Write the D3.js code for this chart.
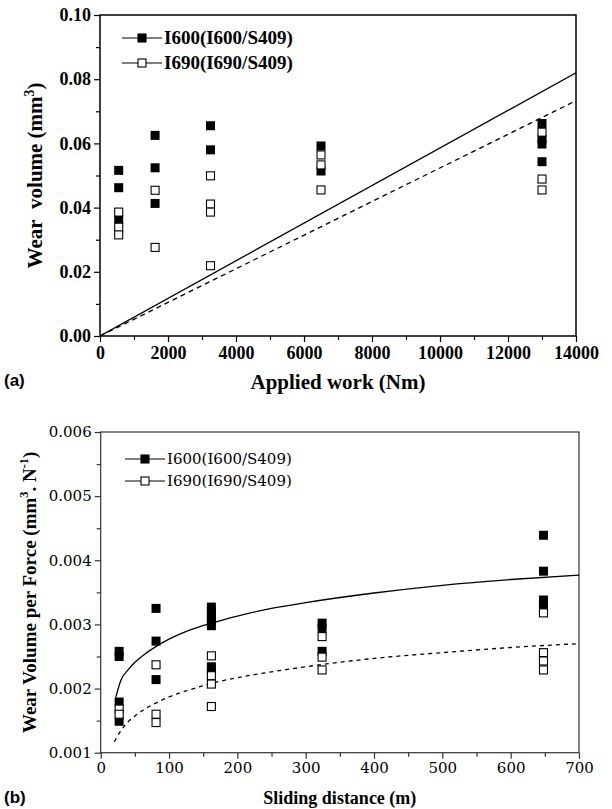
<!DOCTYPE html>
<html>
<head>
<meta charset="utf-8">
<script src="https://cdn.jsdelivr.net/npm/d3@7"></script>
<style>
  body { margin: 0; background: #fff; }
  svg { display: block; }
</style>
</head>
<body>
<svg id="chart" width="612" height="809"></svg>
<script>
// ---- panel (a): wear volume vs applied work ----
const workX = [550, 1620, 3250, 6500, 13000];
const volI600 = [
    [0.0516, 0.0462, 0.0363],
    [0.0625, 0.0524, 0.0413],
    [0.0655, 0.0580],
    [0.0592, 0.0514],
    [0.0662, 0.0614, 0.0598, 0.0543]
];
const volI690 = [
    [0.0386, 0.0339, 0.0315],
    [0.0454, 0.0276],
    [0.0499, 0.0411, 0.0386, 0.0219],
    [0.0564, 0.0533, 0.0455],
    [0.0635, 0.0489, 0.0455]
];
const fitI600a = [[0, 0], [14000, 0.0820]];
const fitI690a = [[0, 0], [14000, 0.0733]];
const workTicks = [0, 2000, 4000, 6000, 8000, 10000, 12000, 14000];
const volTicks = [0, 0.02, 0.04, 0.06, 0.08, 0.10];

// ---- panel (b): wear volume per force vs sliding distance ----
const distX = [27, 81, 162, 324, 648];
const wpfI600 = [
    [0.00258, 0.00250, 0.00179, 0.00149],
    [0.00325, 0.00274, 0.00214],
    [0.00327, 0.00320, 0.00312, 0.00305, 0.00298, 0.00234, 0.00229],
    [0.00302, 0.00294, 0.00258],
    [0.00439, 0.00383, 0.00338, 0.00333, 0.00325]
];
const wpfI690 = [
    [0.00168, 0.00160],
    [0.00237, 0.00160, 0.00147],
    [0.00251, 0.00220, 0.00207, 0.00172],
    [0.00281, 0.00249, 0.00229],
    [0.00318, 0.00256, 0.00243, 0.00229]
];
const curveI600b = [[22, 0.00186], [30, 0.00214], [40, 0.00229], [50, 0.00241], [60, 0.00250],
    [80, 0.00265], [100, 0.00277], [130, 0.00291], [162, 0.00302], [200, 0.00313], [250, 0.00325],
    [300, 0.00334], [400, 0.00349], [500, 0.00361], [600, 0.00370], [700, 0.00377]];
const curveI690b = [[20, 0.00117], [30, 0.00135], [40, 0.00148], [50, 0.00157], [60, 0.00165],
    [80, 0.00177], [100, 0.00187], [130, 0.00198], [162, 0.00208], [200, 0.00217], [250, 0.00226],
    [300, 0.00234], [400, 0.00247], [500, 0.00256], [600, 0.00264], [700, 0.00270]];
const distTicks = [0, 100, 200, 300, 400, 500, 600, 700];
const wpfTicks = [0.001, 0.002, 0.003, 0.004, 0.005, 0.006];

const legendNames = ["I600(I600/S409)", "I690(I690/S409)"];

const TIMES = '"Liberation Serif", "Times New Roman", serif';
const WIDE = '"DejaVu Serif", serif';
const ARIAL = '"Liberation Sans", Arial, sans-serif';

const svg = d3.select('#chart');

// flatten column lists into [x, y] points
function toPoints(xs, cols) {
    const pts = [];
    cols.forEach((col, i) => col.forEach(v => pts.push([xs[i], v])));
    return pts;
}

function font(sel, family, size, weight) {
    return sel.style('font-family', family).style('font-size', size + 'px')
        .style('font-weight', weight);
}

function drawPanel(p) {
    const g = svg.append('g');
    const x = d3.scaleLinear().domain(p.xDomain).range([p.left, p.right]);
    const y = d3.scaleLinear().domain(p.yDomain).range([p.bottom, p.top]);

    // minor ticks
    g.append('g').attr('transform', `translate(0,${p.bottom})`)
        .call(d3.axisBottom(x).tickValues(p.xMinor).tickSize(4).tickFormat(''))
        .call(a => a.select('.domain').remove())
        .selectAll('line').attr('stroke', p.axisColor).attr('stroke-width', 1.2);
    g.append('g').attr('transform', `translate(${p.left},0)`)
        .call(d3.axisLeft(y).tickValues(p.yMinor).tickSize(4).tickFormat(''))
        .call(a => a.select('.domain').remove())
        .selectAll('line').attr('stroke', p.axisColor).attr('stroke-width', 1.2);

    // major ticks + labels
    const xa = g.append('g').attr('transform', `translate(0,${p.bottom})`)
        .call(d3.axisBottom(x).tickValues(p.xTicks).tickSize(6).tickPadding(4).tickFormat(d3.format('d')));
    const ya = g.append('g').attr('transform', `translate(${p.left},0)`)
        .call(d3.axisLeft(y).tickValues(p.yTicks).tickSize(6).tickPadding(3).tickFormat(p.yFormat));
    [xa, ya].forEach(a => {
        a.attr('font-family', null).attr('font-size', null);
        a.select('.domain').remove();
        a.selectAll('line').attr('stroke', p.axisColor).attr('stroke-width', 1.2);
        font(a.selectAll('text'), p.tickFont, p.tickSize, p.tickWeight).attr('fill', '#000');
    });

    // frame
    g.append('rect')
        .attr('x', p.left).attr('y', p.top)
        .attr('width', p.right - p.left).attr('height', p.bottom - p.top)
        .attr('fill', 'none').attr('stroke', p.axisColor).attr('stroke-width', p.frameWidth);

    // fit lines
    const clip = 'clip' + p.id;
    g.append('clipPath').attr('id', clip).append('rect')
        .attr('x', p.left).attr('y', p.top)
        .attr('width', p.right - p.left).attr('height', p.bottom - p.top);
    const line = d3.line().x(d => x(d[0])).y(d => y(d[1])).curve(d3.curveMonotoneX);
    g.append('path').datum(p.fitA).attr('clip-path', `url(#${clip})`)
        .attr('d', line).attr('fill', 'none').attr('stroke', '#000').attr('stroke-width', 1.3);
    g.append('path').datum(p.fitB).attr('clip-path', `url(#${clip})`)
        .attr('d', line).attr('fill', 'none').attr('stroke', '#000').attr('stroke-width', 1.3)
        .attr('stroke-dasharray', p.dash);

    // markers
    const s = p.marker;
    g.append('g').selectAll('rect').data(toPoints(p.xs, p.seriesA)).join('rect')
        .attr('x', d => x(d[0]) - s / 2).attr('y', d => y(d[1]) - s / 2)
        .attr('width', s).attr('height', s).attr('fill', '#000');
    g.append('g').selectAll('rect').data(toPoints(p.xs, p.seriesB)).join('rect')
        .attr('x', d => x(d[0]) - s / 2 + 0.5).attr('y', d => y(d[1]) - s / 2 + 0.5)
        .attr('width', s - 1).attr('height', s - 1)
        .attr('fill', '#fff').attr('stroke', '#000').attr('stroke-width', 1.1);

    // legend
    legendNames.forEach((name, i) => {
        const ly = p.legY + i * p.legGap;
        g.append('line').attr('x1', p.legX).attr('x2', p.legX + 40)
            .attr('y1', ly).attr('y2', ly).attr('stroke', '#000').attr('stroke-width', 1.1);
        g.append('rect').attr('x', p.legX + 20 - s / 2 + 0.5).attr('y', ly - s / 2 + 0.5)
            .attr('width', s - 1).attr('height', s - 1)
            .attr('fill', i === 0 ? '#000' : '#fff').attr('stroke', '#000').attr('stroke-width', 1.1);
        font(g.append('text'), p.legFontFamily, p.legFont, p.legWeight)
            .attr('x', p.legX + 42).attr('y', ly + p.legFont * 0.33).text(name);
    });

    // axis titles
    font(g.append('text'), TIMES, p.titleSize, 'bold')
        .attr('x', (p.left + p.right) / 2).attr('y', p.xTitleY)
        .attr('text-anchor', 'middle').text(p.xTitle);
    const yt = font(g.append('text'), TIMES, p.yTitleSize, 'bold')
        .attr('transform', `translate(${p.yTitleX},${(p.top + p.bottom) / 2}) rotate(-90)`)
        .attr('text-anchor', 'middle');
    p.yTitle.forEach(part => {
        const t = yt.append('tspan').text(part.t);
        if (part.sup) t.attr('dy', -p.yTitleSize * 0.4).style('font-size', (p.yTitleSize * 0.65) + 'px');
        if (part.down) t.attr('dy', p.yTitleSize * 0.4);
    });

    // panel tag
    font(g.append('text'), ARIAL, 17, 'bold').attr('x', 4).attr('y', p.tagY).text(p.tag);
}

drawPanel({
    id: 'a', left: 100, right: 576, top: 15, bottom: 336,
    xDomain: [0, 14000], yDomain: [0, 0.10],
    xTicks: workTicks, yTicks: volTicks,
    xMinor: d3.range(1000, 14000, 2000), yMinor: [0.01, 0.03, 0.05, 0.07, 0.09],
    yFormat: d3.format('.2f'), tickFont: TIMES, tickSize: 18, tickWeight: 'bold',
    axisColor: '#000', frameWidth: 1.5,
    xs: workX, seriesA: volI600, seriesB: volI690,
    fitA: fitI600a, fitB: fitI690a, dash: '5,4', marker: 9,
    legX: 122, legY: 38, legGap: 25, legFont: 19, legFontFamily: TIMES, legWeight: 'bold',
    xTitle: 'Applied work (Nm)', xTitleY: 389, titleSize: 21,
    yTitle: [{t: 'Wear\u00a0\u00a0volume (mm'}, {t: '3', sup: true}, {t: ')', down: true}],
    yTitleX: 42, yTitleSize: 21,
    tag: '(a)', tagY: 386
});

drawPanel({
    id: 'b', left: 100.7, right: 579, top: 432, bottom: 752.7,
    xDomain: [0, 700], yDomain: [0.001, 0.006],
    xTicks: distTicks, yTicks: wpfTicks,
    xMinor: d3.range(50, 700, 100), yMinor: [0.0015, 0.0025, 0.0035, 0.0045, 0.0055],
    yFormat: d3.format('.3f'), tickFont: WIDE, tickSize: 15, tickWeight: 'normal',
    axisColor: '#333', frameWidth: 1.2,
    xs: distX, seriesA: wpfI600, seriesB: wpfI690,
    fitA: curveI600b, fitB: curveI690b, dash: '4,4', marker: 9,
    legX: 125, legY: 459, legGap: 22, legFont: 15, legFontFamily: WIDE, legWeight: 'normal',
    xTitle: 'Sliding distance (m)', xTitleY: 804, titleSize: 18,
    yTitle: [{t: 'Wear Volume per Force (mm'}, {t: '3', sup: true}, {t: '. N', down: true},
             {t: '-1', sup: true}, {t: ')', down: true}],
    yTitleX: 36, yTitleSize: 19,
    tag: '(b)', tagY: 803
});
</script>
</body>
</html>
